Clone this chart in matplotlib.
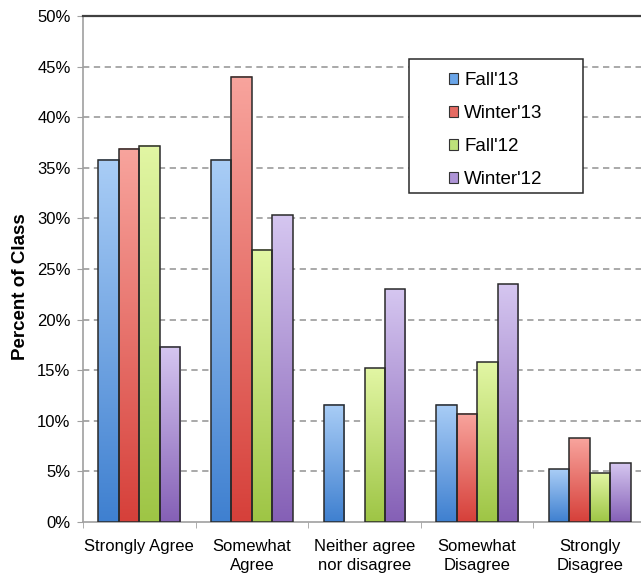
import numpy as np
import matplotlib
matplotlib.use("Agg")
import matplotlib.pyplot as plt
from matplotlib.patches import Patch, Rectangle
from matplotlib.colors import to_rgb

categories = ["Strongly Agree", "Somewhat\nAgree", "Neither agree\nnor disagree",
              "Somewhat\nDisagree", "Strongly\nDisagree"]
series_names = ["Fall'13", "Winter'13", "Fall'12", "Winter'12"]
fall13 = [35.8, 35.8, 11.6, 11.6, 5.2]
winter13 = [36.9, 44.0, 0.0, 10.7, 8.3]
fall12 = [37.2, 26.9, 15.2, 15.8, 4.8]
winter12 = [17.3, 30.3, 23.0, 23.5, 5.8]
yticks = [0, 5, 10, 15, 20, 25, 30, 35, 40, 45, 50]

series = [fall13, winter13, fall12, winter12]
grad_top = ["#a9cdf6", "#f8a49d", "#e2f6a4", "#d5c6f0"]
grad_bot = ["#3f80d0", "#d6403a", "#9ec545", "#8560b6"]
legend_cols = ["#6aa5e8", "#e46a62", "#bde27a", "#ae94d6"]

plt.rcParams['font.family'] = ['Liberation Sans', 'DejaVu Sans']

W, H = 641, 573
fig = plt.figure(figsize=(W / 100, H / 100), dpi=100)
ax_left, ax_right, ax_top, ax_bot = 83, 646, 16, 522
ax = fig.add_axes([ax_left / W, 1 - ax_bot / H, (ax_right - ax_left) / W, (ax_bot - ax_top) / H])

x = np.arange(len(categories))
bw = 0.182
offsets = (np.arange(4) - 1.5) * bw

for i, vals in enumerate(series):
    bars = ax.bar(x + offsets[i], vals, bw, facecolor="none", edgecolor="#2a2a2a",
                  linewidth=1.1, zorder=4)
    c1 = np.array(to_rgb(grad_top[i]))
    c2 = np.array(to_rgb(grad_bot[i]))
    t = np.linspace(0, 1, 128)[:, None, None]
    img = c1 * (1 - t) + c2 * t
    for r in bars:
        if r.get_height() <= 0:
            r.set_visible(False)
            continue
        ax.imshow(img, extent=[r.get_x(), r.get_x() + r.get_width(), 0, r.get_height()],
                  aspect="auto", origin="upper", zorder=3, interpolation="bilinear")

ax.set_xlim(-0.5, len(categories) - 0.5)
ax.set_ylim(0, 50)
ax.set_yticks(yticks)
ax.set_yticklabels([f"{v}%" for v in yticks], fontsize=12)
ax.set_xticks(x)
ax.set_xticklabels(categories, fontsize=12, linespacing=1.4)
ax.set_xticks(np.arange(len(categories) + 1) - 0.5, minor=True)
ax.tick_params(axis="x", which="major", length=0, pad=12)
ax.tick_params(axis="x", which="minor", length=4, color="#a0a0a0", direction="out")
ax.tick_params(axis="y", length=4, color="#a0a0a0", pad=5)
for yv in yticks[1:-1]:
    ax.axhline(yv, color="#a3a3a3", linewidth=1.3, linestyle=(0, (3.5, 2.5)), zorder=1)

ax.spines["right"].set_visible(False)
ax.spines["top"].set_color("#404040")
ax.spines["top"].set_linewidth(1.6)
ax.spines["left"].set_color("#a0a0a0")
ax.spines["bottom"].set_color("#a0a0a0")
ax.spines["left"].set_linewidth(1.2)
ax.spines["bottom"].set_linewidth(1.2)

ax.set_ylabel("Percent of Class", fontsize=13.5, fontweight="bold")
ax.yaxis.set_label_coords((29 - ax_left) / (ax_right - ax_left), (ax_bot - 287) / (ax_bot - ax_top))

# legend box
fig.patches.append(Rectangle((409 / W, 1 - 193 / H), (583 - 409) / W, (193 - 59) / H,
                             transform=fig.transFigure, facecolor="white",
                             edgecolor="#2a2a2a", linewidth=1.1, zorder=5))
handles = [Patch(facecolor=legend_cols[i], edgecolor="#333333", linewidth=0.8)
           for i in range(4)]
leg = fig.legend(handles, series_names, loc="upper left",
                 bbox_to_anchor=(449 / W, 1 - 72 / H), frameon=False,
                 fontsize=13.5, handlelength=0.5, handleheight=0.5,
                 handletextpad=0.3, labelspacing=0.85, borderpad=0, borderaxespad=0)
leg.set_zorder(6)

fig.savefig("out.png", dpi=100)
